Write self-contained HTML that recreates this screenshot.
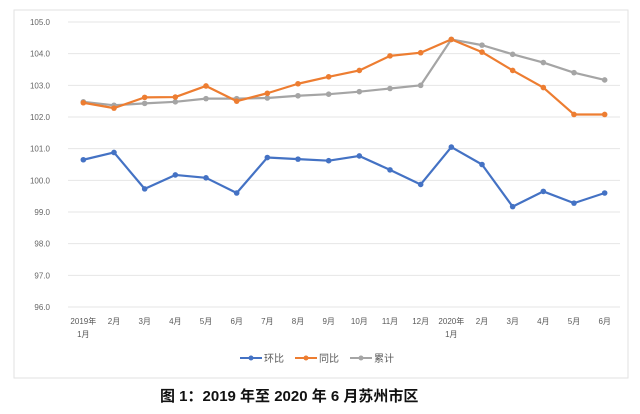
<!DOCTYPE html>
<html><head><meta charset="utf-8"><style>
body{margin:0;background:#fff;width:640px;height:409px;overflow:hidden;font-family:"Liberation Sans","Noto Sans CJK SC",sans-serif;}
</style></head><body>
<svg id="c" width="640" height="409" xmlns="http://www.w3.org/2000/svg">
<rect x="14" y="10" width="614" height="368" fill="#fff" stroke="#e2e2e2"/>
<g id="grid"></g><g id="ylab"></g><g id="xlab"></g><g id="series"></g>
<g font-size="10" fill="#595959">
<g><line x1="240" y1="358" x2="262" y2="358" stroke="#4472c4" stroke-width="2"/><circle cx="251" cy="358" r="2.5" fill="#4472c4"/><text x="264" y="362">环比</text></g>
<g><line x1="295" y1="358" x2="317" y2="358" stroke="#ed7d31" stroke-width="2"/><circle cx="306" cy="358" r="2.5" fill="#ed7d31"/><text x="319" y="362">同比</text></g>
<g><line x1="350" y1="358" x2="372" y2="358" stroke="#a5a5a5" stroke-width="2"/><circle cx="361" cy="358" r="2.5" fill="#a5a5a5"/><text x="374" y="362">累计</text></g>
</g>
<text x="160" y="401" font-size="15" font-weight="bold" fill="#111">图 1：2019 年至 2020 年 6 月苏州市区</text>
<defs><linearGradient id="fade" x1="0" x2="1"><stop offset="0" stop-color="#fff" stop-opacity="0"/><stop offset="0.4" stop-color="#fff" stop-opacity="1"/></linearGradient></defs>
<rect x="420" y="382" width="220" height="27" fill="url(#fade)"/>
</svg>
<script>
const categories=["2019年\n1月","2月","3月","4月","5月","6月","7月","8月","9月","10月","11月","12月","2020年\n1月","2月","3月","4月","5月","6月"];
const huanbi=[100.65,100.88,99.73,100.17,100.08,99.6,100.72,100.67,100.62,100.77,100.33,99.87,101.05,100.5,99.17,99.65,99.28,99.6];
const tongbi=[102.45,102.28,102.62,102.63,102.98,102.5,102.75,103.05,103.27,103.47,103.93,104.03,104.45,104.05,103.47,102.93,102.08,102.08];
const leiji=[102.48,102.37,102.43,102.48,102.58,102.58,102.6,102.67,102.72,102.8,102.9,103.0,104.45,104.27,103.98,103.72,103.4,103.17];
const yTicks=[96,97,98,99,100,101,102,103,104,105];
const NS="http://www.w3.org/2000/svg";
const yMin=96,yMax=105,yTop=22,yBot=307,xL=68,xR=620;
function y(v){return yBot-(v-yMin)/(yMax-yMin)*(yBot-yTop);}
function x(i){const s=(xR-xL)/categories.length;return xL+s*(i+0.5);}
function mk(tag,attrs,parent){const e=document.createElementNS(NS,tag);for(const k in attrs)e.setAttribute(k,attrs[k]);parent.appendChild(e);return e;}
const grid=document.getElementById('grid'),yl=document.getElementById('ylab'),xl=document.getElementById('xlab'),sg=document.getElementById('series');
yTicks.forEach(t=>{
 const l=mk('line',{x1:xL,x2:xR,y1:y(t),y2:y(t),stroke:'#e6e6e6','stroke-width':1},grid);
 
 
 const tx=mk('text',{x:50,y:y(t)+3,'font-size':8,fill:'#666','text-anchor':'end'},yl);
 tx.textContent=t.toFixed(1);
 
 
});
categories.forEach((c,i)=>{
 c.split("\n").forEach((p,j)=>{
  const tx=mk('text',{x:x(i),y:324+j*13,'font-size':8,fill:'#595959','text-anchor':'middle'},xl);
  tx.textContent=p;
  
  
 });
});
function draw(data,color,name){
 const g=mk('g',{},sg);
 
 
 const pl=mk('polyline',{points:data.map((v,i)=>x(i)+','+y(v)).join(' '),fill:'none',stroke:color,'stroke-width':2.2,'stroke-linejoin':'round'},g);
 
 
 data.forEach((v,i)=>{
  const c=mk('circle',{cx:x(i),cy:y(v),r:2.8,fill:color},g);
  
  
 });
}
draw(leiji,'#a5a5a5','leiji');
draw(tongbi,'#ed7d31','tongbi');
draw(huanbi,'#4472c4','huanbi');
</script>
</body></html>
